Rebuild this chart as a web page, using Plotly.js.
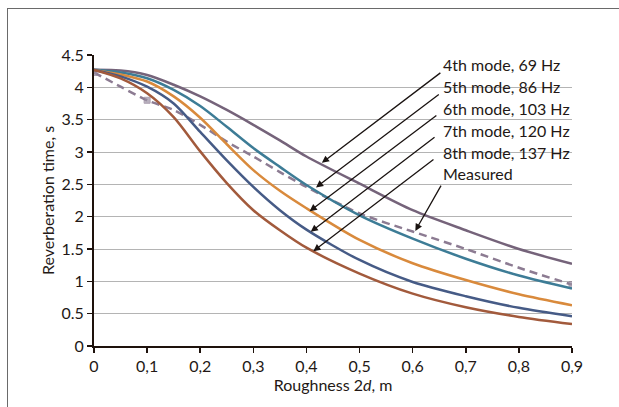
<!DOCTYPE html>
<html>
<head>
<meta charset="utf-8">
<script src="https://cdn.plot.ly/plotly-3.0.1.min.js"></script>
<style>
  html, body { margin: 0; padding: 0; background: #fff; overflow: hidden; }
  #wrap { position: relative; width: 619px; height: 407px; overflow: hidden; }
  #frame { position: absolute; left: 7px; top: 8px; width: 700px; height: 500px;
           border: 1.5px solid #6a6a6a; box-sizing: border-box; pointer-events: none; }
  #chart { position: absolute; left: 0; top: 0; width: 619px; height: 407px; }
</style>
</head>
<body>
<div id="wrap">
  <div id="chart"></div>
  <div id="frame"></div>
</div>
<script>
// Roughness 2d, m
const roughness = [0, 0.05, 0.1, 0.15, 0.2, 0.25, 0.3, 0.35, 0.4, 0.5, 0.6, 0.7, 0.8, 0.9];
// Reverberation time, s
const mode4_69Hz  = [4.27, 4.26, 4.19, 4.04, 3.86, 3.65, 3.42, 3.18, 2.93, 2.51, 2.10, 1.79, 1.50, 1.27];
const mode5_86Hz  = [4.27, 4.23, 4.14, 3.96, 3.71, 3.39, 3.06, 2.77, 2.49, 2.02, 1.66, 1.35, 1.09, 0.89];
const mode6_103Hz = [4.27, 4.20, 4.09, 3.86, 3.53, 3.12, 2.72, 2.40, 2.13, 1.64, 1.28, 1.02, 0.80, 0.63];
const mode7_120Hz = [4.27, 4.17, 4.01, 3.75, 3.31, 2.87, 2.46, 2.10, 1.80, 1.33, 0.99, 0.77, 0.59, 0.46];
const mode8_137Hz = [4.27, 4.14, 3.91, 3.54, 3.01, 2.52, 2.10, 1.79, 1.52, 1.12, 0.81, 0.60, 0.45, 0.34];
const measured    = [4.23, 4.01, 3.80, 3.65, 3.42, 3.16, 2.93, 2.69, 2.46, 2.05, 1.77, 1.50, 1.21, 0.95];

const seriesNames = ["4th mode, 69 Hz", "5th mode, 86 Hz", "6th mode, 103 Hz",
                     "7th mode, 120 Hz", "8th mode, 137 Hz", "Measured"];

const xTickVals = [0, 0.1, 0.2, 0.3, 0.4, 0.5, 0.6, 0.7, 0.8, 0.9];
const xTickText = ["0", "0,1", "0,2", "0,3", "0,4", "0,5", "0,6", "0,7", "0,8", "0,9"];
const yTickVals = [0, 0.5, 1, 1.5, 2, 2.5, 3, 3.5, 4, 4.5];
const yTickText = ["0", "0.5", "1", "1.5", "2", "2.5", "3", "3.5", "4", "4.5"];

const FONT = "Lato, 'Open Sans', sans-serif";
const FS = 16;
const colors = ["#75637a", "#3d7c96", "#d98a3c", "#465b86", "#a25a3c", "#8c7b92"];
const curves = [mode4_69Hz, mode5_86Hz, mode6_103Hz, mode7_120Hz, mode8_137Hz];

const traces = curves.map((ys, i) => ({
  type: "scatter", mode: "lines", x: roughness, y: ys, name: seriesNames[i],
  line: { color: colors[i], width: 2.5, shape: "spline", smoothing: 0.8 },
  hoverinfo: "skip"
}));
const markerSizes = measured.map((v, i) => (i === 0 || i === 2 || i === measured.length - 1) ? 6 : 0);
traces.splice(1, 0, {
  type: "scatter", mode: "lines+markers", x: roughness, y: measured, name: seriesNames[5],
  line: { color: colors[5], width: 2.5, dash: "8px,5px", shape: "spline", smoothing: 0.8 },
  marker: { symbol: "square", size: markerSizes, color: "#9b90a3" },
  hoverinfo: "skip"
});

// label anchor positions and arrow head / tail positions (data coordinates)
const labelX = 0.653;
const labelY = [4.35, 4.01, 3.68, 3.34, 2.99, 2.67];
const arrowHeads = [[0.429, 2.833], [0.418, 2.452], [0.406, 2.085], [0.408, 1.765], [0.413, 1.466], [0.605, 1.780]];
const arrowTails = [[0.655, 4.241], [0.652, 3.907], [0.6475, 3.582], [0.644, 3.246], [0.642, 2.901], [0.655, 2.503]];

const annotations = [];
seriesNames.forEach((n, i) => {
  annotations.push({
    x: labelX, y: labelY[i], xref: "x", yref: "y", text: n, showarrow: false,
    xanchor: "left", yanchor: "middle", font: { family: FONT, size: FS, color: "#231815" }
  });
  annotations.push({
    x: arrowHeads[i][0], y: arrowHeads[i][1], ax: arrowTails[i][0], ay: arrowTails[i][1],
    xref: "x", yref: "y", axref: "x", ayref: "y", text: "", showarrow: true,
    arrowhead: 2, arrowsize: 1.1, arrowwidth: 1.3, arrowcolor: "#1a1311", standoff: 0, startstandoff: 0
  });
});

const layout = {
  width: 619, height: 407,
  margin: { l: 94, r: 47.3, t: 55, b: 61.3, pad: 0 },
  paper_bgcolor: "#ffffff", plot_bgcolor: "#ffffff",
  showlegend: false,
  font: { family: FONT, color: "#231815", size: FS },
  xaxis: {
    range: [0, 0.9], tickmode: "array", tickvals: xTickVals, ticktext: xTickText,
    showgrid: false, zeroline: false, showline: true, linecolor: "#1e120c", linewidth: 2,
    ticks: "outside", ticklen: 5, tickcolor: "#1e120c", tickwidth: 1.5,
    tickfont: { family: FONT, size: FS, color: "#231815" },
    title: { text: "Roughness 2<i>d</i>, m", font: { family: FONT, size: FS, color: "#231815" }, standoff: 0 },
    fixedrange: true
  },
  yaxis: {
    range: [0, 4.5], tickmode: "array", tickvals: yTickVals, ticktext: yTickText,
    showgrid: true, gridcolor: "#b4b4b4", gridwidth: 1, zeroline: false,
    showline: true, linecolor: "#1e120c", linewidth: 2,
    ticks: "outside", ticklen: 5, tickcolor: "#1e120c", tickwidth: 1.5,
    tickfont: { family: FONT, size: FS, color: "#231815" },
    title: { text: "Reverberation time, s", font: { family: FONT, size: FS, color: "#231815" }, standoff: 3 },
    fixedrange: true
  },
  annotations: annotations
};

Plotly.newPlot("chart", traces, layout, { displayModeBar: false, staticPlot: true });
</script>
</body>
</html>
